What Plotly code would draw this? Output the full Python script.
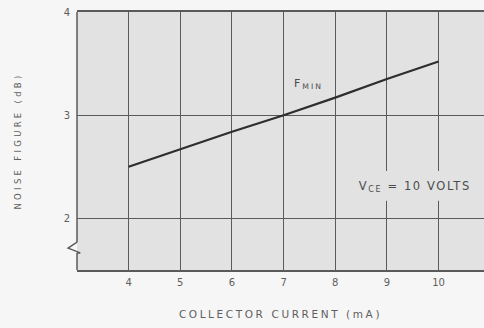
import plotly.graph_objects as go

# Noise figure vs collector current
current_ma = [4, 5, 6, 7, 8, 9, 10]
noise_db = [2.5, 2.67, 2.84, 3.0, 3.17, 3.35, 3.52]

x_ticks = [4, 5, 6, 7, 8, 9, 10]
y_ticks = [2, 3, 4]

grid_col = "#5a5a5a"
text_col = "#5e5e5e"
note_col = "#4c4c4c"
bg_col = "#e2e2e2"
font_fam = "DejaVu Sans, Verdana, sans-serif"

fig = go.Figure()
fig.add_trace(go.Scatter(
    x=current_ma, y=noise_db, mode="lines",
    line=dict(color="#2e2e2e", width=2.2),
    hoverinfo="skip", showlegend=False,
))

fig.update_layout(
    width=484, height=328,
    margin=dict(l=77, r=0, t=12, b=58),
    paper_bgcolor="#f6f6f6",
    plot_bgcolor=bg_col,
    font=dict(family=font_fam, size=10, color=text_col),
    xaxis=dict(
        range=[3, 10.88], tickvals=x_ticks, ticktext=[str(v) for v in x_ticks],
        showgrid=True, gridcolor=grid_col, gridwidth=1.2,
        showline=True, mirror=True, linecolor=grid_col, linewidth=1.5,
        zeroline=False, ticks="", ticklabelstandoff=2,
        tickfont=dict(size=10, color=text_col),
        title=dict(text="COLLECTOR CURRENT (mA)", standoff=24,
                   font=dict(size=10.5, color=text_col)),
    ),
    yaxis=dict(
        range=[1.5, 4], tickvals=y_ticks, ticktext=[str(v) for v in y_ticks],
        showgrid=True, gridcolor=grid_col, gridwidth=1.2,
        showline=False, zeroline=False, ticks="", ticklabelstandoff=6,
        tickfont=dict(size=10, color=text_col),
        title=dict(text="NOISE FIGURE (dB)", standoff=40,
                   font=dict(size=8.5, color=text_col)),
    ),
    annotations=[
        dict(x=7.48, y=3.30, xref="x", yref="y", showarrow=False,
             text="F<sub>MIN</sub>", font=dict(size=11, color=note_col)),
        dict(x=9.55, y=2.31, xref="x", yref="y", showarrow=False,
             text="V<sub>CE</sub> = 10 VOLTS",
             font=dict(size=11.5, color=note_col)),
    ],
    shapes=[
        # clear patch behind the bias-condition note
        dict(type="rect", xref="x", yref="y", x0=8.45, x1=10.7,
             y0=2.17, y1=2.46, layer="between",
             fillcolor=bg_col, line=dict(width=0)),
        # left axis, broken near the bottom
        dict(type="line", xref="paper", yref="paper", x0=0, x1=0,
             y0=0.108, y1=1, line=dict(color=grid_col, width=1.5)),
        dict(type="line", xref="paper", yref="paper", x0=0, x1=0,
             y0=0, y1=0.066, line=dict(color=grid_col, width=1.5)),
        # axis break mark
        dict(type="path", xref="paper", yref="paper",
             path="M 0,0.108 L -0.022,0.085 L 0.008,0.066 L 0,0.066",
             line=dict(color=grid_col, width=1.4)),
    ],
)

# widen the letter spacing of the titles and notes
spacing_js = """
var gd = document.getElementById('{plot_id}');
function spread(el, v) { if (el) { el.style.letterSpacing = v; } }
spread(gd.querySelector('.xtitle'), '2.6px');
spread(gd.querySelector('.ytitle'), '3.3px');
var notes = gd.querySelectorAll('.annotation-text');
spread(notes[0], '2px');
spread(notes[1], '1.6px');
"""

fig.write_html("out.html", post_script=spacing_js)
